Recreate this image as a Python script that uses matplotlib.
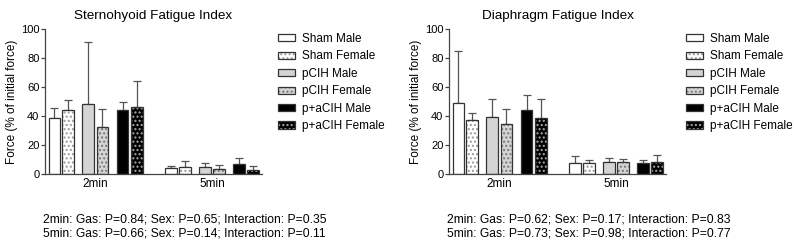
import numpy as np
import matplotlib; matplotlib.use("Agg"); import matplotlib.pyplot as plt
from matplotlib.patches import Patch

plt.rcParams['font.family'] = ['Liberation Sans', 'DejaVu Sans']
plt.rcParams['hatch.linewidth'] = 1.0

groups = ["Sham Male", "Sham Female", "pCIH Male", "pCIH Female", "p+aCIH Male", "p+aCIH Female"]
times = ["2min", "5min"]

# sternohyoid: mean and upper error (% of initial force)
st_2min = [38.9, 44.1, 48.3, 32.6, 43.9, 46.0]
st_2min_err = [6.4, 6.7, 42.5, 12.4, 6.0, 18.1]
st_5min = [3.9, 5.1, 4.6, 3.2, 6.9, 3.0]
st_5min_err = [1.8, 3.9, 3.0, 2.8, 3.9, 2.3]

# diaphragm
di_2min = [49.0, 37.0, 39.3, 34.5, 43.9, 38.6]
di_2min_err = [36.0, 5.3, 12.2, 10.5, 10.4, 12.9]
di_5min = [7.8, 7.4, 8.5, 8.0, 7.4, 8.3]
di_5min_err = [4.4, 2.0, 2.3, 2.6, 2.0, 4.6]

st_stats = ["2min: Gas: P=0.84; Sex: P=0.65; Interaction: P=0.35",
            "5min: Gas: P=0.66; Sex: P=0.14; Interaction: P=0.11"]
di_stats = ["2min: Gas: P=0.62; Sex: P=0.17; Interaction: P=0.83",
            "5min: Gas: P=0.73; Sex: P=0.98; Interaction: P=0.77"]

# face, hatch, hatch colour per group
styles = [("white", None, None), ("white", "....", "#999999"),
          ("#d4d4d4", None, None), ("#d4d4d4", "....", "#777777"),
          ("black", None, None), ("black", "....", "#aaaaaa")]
offsets = [-0.353, -0.235, -0.063, 0.059, 0.231, 0.353]
W = 0.1
EDGE = "#333333"

fig = plt.figure(figsize=(7.94, 2.46), dpi=100)

def panel(x0, title, d2, e2, d5, e5, stats, legx):
    ax = fig.add_axes([x0/794, 72/246, 217/794, 145/246])
    for i, (fc, h, hc) in enumerate(styles):
        xs = np.arange(2) + offsets[i]
        ys = [d2[i], d5[i]]
        es = [e2[i], e5[i]]
        ax.errorbar(xs, ys, yerr=[[0, 0], es], fmt='none', ecolor="#555555",
                    elinewidth=0.9, capsize=3, capthick=0.9, zorder=1)
        if h:
            ax.bar(xs, ys, W, color=fc, edgecolor=hc, hatch=h, lw=0, zorder=2)
            ax.bar(xs, ys, W, fill=False, edgecolor=EDGE, lw=0.9, zorder=3)
        else:
            ax.bar(xs, ys, W, color=fc, edgecolor=EDGE, lw=0.9, zorder=2)
    ax.set_xlim(-0.434, 1.428)
    ax.set_ylim(0, 100)
    ax.set_yticks([0, 20, 40, 60, 80, 100])
    ax.set_xticks([0, 1])
    ax.set_xticklabels(times)
    for s in ("top", "right"):
        ax.spines[s].set_visible(False)
    for s in ("left", "bottom"):
        ax.spines[s].set_color("#444444")
        ax.spines[s].set_linewidth(0.9)
    ax.tick_params(axis='y', length=3, width=0.9, color="#444444", labelsize=8, pad=1)
    ax.tick_params(axis='x', length=0, labelsize=8.5, pad=3)
    ax.set_ylabel("Force (% of initial force)", fontsize=8.5, labelpad=2)
    ax.set_title(title, fontsize=9.7, pad=7)

    handles = []
    for fc, h, hc in styles:
        if h:
            handles.append((Patch(facecolor=fc, edgecolor=hc, hatch=h, lw=0),
                            Patch(fill=False, edgecolor=EDGE, lw=0.9)))
        else:
            handles.append(Patch(facecolor=fc, edgecolor=EDGE, lw=0.9))
    fig.legend(handles, groups, loc='upper left',
               bbox_to_anchor=(legx/794, 1 - 33/246), frameon=False,
               fontsize=8.5, handlelength=1.4, handleheight=0.55,
               labelspacing=0.46, handletextpad=0.65, borderaxespad=0,
               borderpad=0)
    fig.text((x0 - 2)/794, 1 - 219/246, stats[0], fontsize=8.75, va='center')
    fig.text((x0 - 2)/794, 1 - 233/246, stats[1], fontsize=8.75, va='center')
    return ax

panel(45, "Sternohyoid Fatigue Index", st_2min, st_2min_err, st_5min, st_5min_err, st_stats, 278)
panel(449, "Diaphragm Fatigue Index", di_2min, di_2min_err, di_5min, di_5min_err, di_stats, 686)

fig.savefig("out.png", dpi=100)
